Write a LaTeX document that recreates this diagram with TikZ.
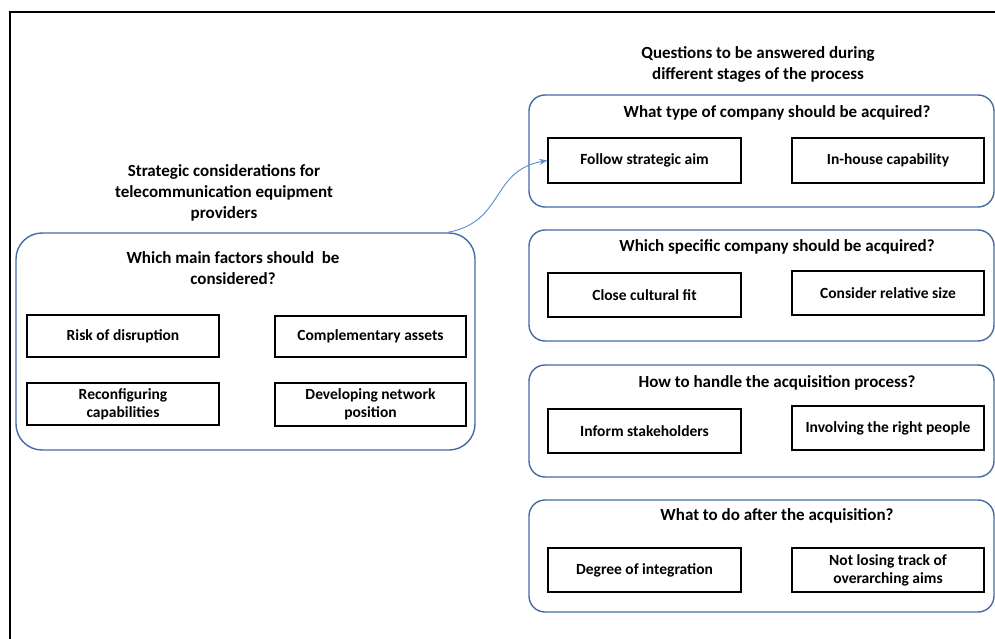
\documentclass[tikz,border=0pt]{standalone}
\usepackage{fontspec}
\setmainfont{Carlito}
\usetikzlibrary{calc,arrows.meta}
\definecolor{panelblue}{RGB}{68,107,166}
\definecolor{linkblue}{RGB}{92,140,208}
\begin{document}
\begin{tikzpicture}[x=1pt,y=-1pt,
  panel/.style={draw=panelblue,line width=1.4pt,rounded corners=16pt,inner sep=0},
  bigpanel/.style={panel,rounded corners=26pt},
  item/.style={draw=black,line width=1.3pt,inner sep=0,align=center,
    font=\bfseries\fontsize{15.5}{18}\selectfont},
  heading/.style={align=center,inner sep=0,font=\bfseries\fontsize{17}{20.7}\selectfont},
  link/.style={draw=linkblue,line width=0.9pt,-{Stealth[length=8pt,width=6pt]}},
]
\useasboundingbox (0,0) rectangle (995,639);
\fill[white] (0,0) rectangle (995,639);

% page frame (left and top edges)
\draw[line width=1.5pt] (10,639) -- (10,12) -- (995,12);

% left panel: strategic considerations
\node[heading] (sctitle) at (224,193) {Strategic considerations for\\telecommunication equipment\\providers};
\node[bigpanel,minimum width=459pt,minimum height=217pt] (factors) at (245.5,341.5) {};
\node[heading] (factorshead) at (233,268) {Which main factors should\ \ be\\considered?};
\node[item,minimum width=192pt,minimum height=42pt] (risk) at (123,336) {Risk of disruption};
\node[item,minimum width=191pt,minimum height=41pt] (assets) at (370.5,336.5) {Complementary assets};
\node[item,minimum width=192pt,minimum height=42pt] (reconf) at (123,404) {Reconfiguring\\capabilities};
\node[item,minimum width=191pt,minimum height=43pt] (network) at (370.5,404.5) {Developing network\\position};

% right column: questions per stage
\node[heading] (qtitle) at (758,64.5) {Questions to be answered during\\different stages of the process};

\node[panel,minimum width=465pt,minimum height=112pt] (stage1) at (761.5,151) {};
\node[heading] (head1) at (777,113) {What type of company should be acquired?};
\node[item,minimum width=193pt,minimum height=45pt] (aim) at (644.5,160.5) {Follow strategic aim};
\node[item,minimum width=192pt,minimum height=45pt] (inhouse) at (888,160.5) {In-house capability};

\node[panel,minimum width=465pt,minimum height=111pt] (stage2) at (761.5,285.5) {};
\node[heading] (head2) at (777,247) {Which specific company should be acquired?};
\node[item,minimum width=193pt,minimum height=44pt] (culture) at (644.5,295) {Close cultural fit};
\node[item,minimum width=192pt,minimum height=44pt] (size) at (888,293) {Consider relative size};

\node[panel,minimum width=465pt,minimum height=112pt] (stage3) at (761.5,421) {};
\node[heading] (head3) at (777,383) {How to handle the acquisition process?};
\node[item,minimum width=193pt,minimum height=44pt] (inform) at (644.5,431) {Inform stakeholders};
\node[item,minimum width=192pt,minimum height=44pt] (people) at (888,428) {Involving the right people};

\node[panel,minimum width=465pt,minimum height=112pt] (stage4) at (761.5,556) {};
\node[heading] (head4) at (777,516) {What to do after the acquisition?};
\node[item,minimum width=193pt,minimum height=44pt] (integ) at (644.5,570) {Degree of integration};
\node[item,minimum width=192pt,minimum height=44pt] (track) at (888,570) {Not losing track of\\overarching aims};

% connector from the factors panel to the first stage
\coordinate (linkstart) at ($(factors.north east)+(-28,0)$);
\draw[link] (linkstart) to[out=10,in=190,looseness=1.2] (aim.west);
\end{tikzpicture}
\end{document}
